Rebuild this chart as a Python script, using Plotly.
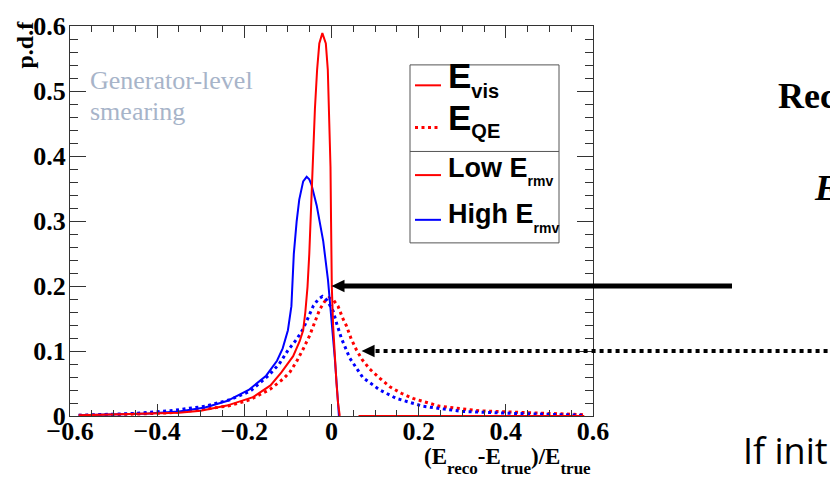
import plotly.graph_objects as go

# ---------------- data: resolution p.d.f. vs (E_reco - E_true)/E_true ----------------
# E_vis, low removal energy (red solid)
evis_low_x = [-0.58, -0.50, -0.42, -0.35, -0.30, -0.24, -0.18, -0.14, -0.115, -0.100,
              -0.088, -0.073, -0.065, -0.060, -0.055, -0.051, -0.0475, -0.0436, -0.038,
              -0.033, -0.028, -0.021, -0.013, -0.0085, -0.0055, -0.0023, -0.001, 0.0007,
              0.0037, 0.0076, 0.0115, 0.015, 0.019, None, 0.062, 0.58]
evis_low_y = [0.001, 0.002, 0.003, 0.005, 0.008, 0.016, 0.029, 0.047, 0.067, 0.080,
              0.092, 0.115, 0.132, 0.160, 0.199, 0.249, 0.309, 0.398, 0.473,
              0.533, 0.573, 0.589, 0.573, 0.533, 0.473, 0.383, 0.299, 0.199,
              0.139, 0.089, 0.050, 0.020, 0.0, None, 0.0, 0.0]

# E_vis, high removal energy (blue solid)
evis_high_x = [-0.58, -0.50, -0.42, -0.35, -0.29, -0.24, -0.19, -0.15, -0.125, -0.112,
               -0.100, -0.092, -0.0895, -0.0865, -0.080, -0.074, -0.065, -0.057, -0.051,
               -0.046, -0.034, -0.019, -0.008, 0.0, 0.0076, 0.015, 0.017]
evis_high_y = [0.001, 0.002, 0.004, 0.007, 0.013, 0.023, 0.040, 0.062, 0.085, 0.104,
               0.132, 0.169, 0.199, 0.249, 0.299, 0.333, 0.361, 0.368, 0.364,
               0.356, 0.324, 0.269, 0.209, 0.149, 0.089, 0.020, 0.0]

# E_QE, low removal energy (red dotted)
eqe_low_x = [-0.58, -0.50, -0.447, -0.371, -0.294, -0.233, -0.187, -0.141, -0.111, -0.095,
             -0.080, -0.065, -0.050, -0.038, -0.027, -0.016, -0.006, 0.005, 0.015, 0.026,
             0.034, 0.045, 0.057, 0.070, 0.088, 0.111, 0.134, 0.160, 0.187, 0.248, 0.340,
             0.455, 0.58]
eqe_low_y = [0.001, 0.002, 0.003, 0.005, 0.010, 0.016, 0.025, 0.041, 0.057, 0.068,
             0.084, 0.103, 0.124, 0.145, 0.164, 0.176, 0.182, 0.178, 0.169, 0.150,
             0.139, 0.119, 0.102, 0.087, 0.072, 0.058, 0.045, 0.035, 0.027, 0.015, 0.008,
             0.005, 0.002]

# E_QE, high removal energy (blue dotted)
eqe_high_x = [-0.58, -0.52, -0.45, -0.37, -0.29, -0.233, -0.187, -0.145, -0.12, -0.10,
              -0.08, -0.065, -0.042, -0.030, -0.021, -0.010, 0.004, 0.012, 0.023, 0.042,
              0.072, 0.111, 0.149, 0.21, 0.30, 0.42, 0.53, 0.58]
eqe_high_y = [0.001, 0.002, 0.004, 0.008, 0.015, 0.025, 0.038, 0.062, 0.080, 0.101,
              0.118, 0.134, 0.169, 0.180, 0.184, 0.178, 0.161, 0.142, 0.119, 0.089,
              0.059, 0.040, 0.027, 0.015, 0.007, 0.004, 0.002, 0.001]

x_range = [-0.6, 0.6]
y_range = [0.0, 0.6]

# points the two call-out arrows aim at (data coordinates)
arrow_solid_target = (0.0, 0.2)
arrow_dotted_target = (0.069, 0.1)

RED = "#ff0000"
BLUE = "#0000ff"

# ---------------- canvas geometry ----------------
W, H = 830, 478
ML, MR, MT, MB = 70, 237, 15, 62
PW, PH = W - ML - MR, H - MT - MB


def px_x(px):
    """canvas pixel x -> paper x"""
    return (px - ML) / PW


def px_y(py):
    """canvas pixel y -> paper y"""
    return (H - MB - py) / PH


def data_px_x(x):
    return ML + (x - x_range[0]) / (x_range[1] - x_range[0]) * PW


def data_px_y(y):
    return H - MB - (y - y_range[0]) / (y_range[1] - y_range[0]) * PH


fig = go.Figure()

dot = "3px,3.5px"
fig.add_trace(go.Scatter(x=eqe_low_x, y=eqe_low_y, mode="lines",
                         line=dict(color=RED, width=3, dash=dot), showlegend=False))
fig.add_trace(go.Scatter(x=eqe_high_x, y=eqe_high_y, mode="lines",
                         line=dict(color=BLUE, width=3, dash=dot), showlegend=False))
fig.add_trace(go.Scatter(x=evis_high_x, y=evis_high_y, mode="lines",
                         line=dict(color=BLUE, width=2), showlegend=False))
fig.add_trace(go.Scatter(x=evis_low_x, y=evis_low_y, mode="lines", connectgaps=False,
                         line=dict(color=RED, width=2), showlegend=False))

AX = "#333333"
tickfont = dict(family="Liberation Serif", size=26, color="black", weight="bold")
fig.update_xaxes(range=x_range, tick0=-0.6, dtick=0.2, ticks="inside", ticklen=12,
                 tickwidth=1, tickcolor=AX, showline=True, linecolor=AX, linewidth=1,
                 mirror="allticks", showgrid=False, zeroline=False, tickfont=tickfont,
                 ticklabelstandoff=-8,
                 minor=dict(dtick=0.05, tick0=-0.6, ticks="inside", ticklen=6,
                            tickcolor=AX, showgrid=False))
fig.update_yaxes(range=y_range, tick0=0, dtick=0.1, ticks="inside", ticklen=16,
                 tickwidth=1, tickcolor=AX, showline=True, linecolor=AX, linewidth=1,
                 mirror="allticks", showgrid=False, zeroline=False, tickfont=tickfont,
                 ticklabelstandoff=-2,
                 minor=dict(dtick=0.02, tick0=0, ticks="inside", ticklen=8,
                            tickcolor=AX, showgrid=False))

shapes = []
annotations = []


def label(px, py, text, size, family, color="black", weight="normal", style="normal",
          xanchor="left", yanchor="middle", angle=0):
    annotations.append(dict(x=px_x(px), y=px_y(py), xref="paper", yref="paper",
                            text=text, showarrow=False, xanchor=xanchor,
                            yanchor=yanchor, textangle=angle, borderpad=0,
                            font=dict(size=size, family=family, color=color,
                                      weight=weight, style=style)))


def sub(text, size, shift):
    return f'<span style="font-size:{size}px;baseline-shift:-{shift}px">{text}</span>'


# ---------------- axis titles ----------------
label(25, 34, "p.d.f", 24, "Liberation Serif", weight="bold", angle=-90,
      xanchor="center")
xt = ("(E" + sub("reco", 17, 10) + "-E" + sub("true", 17, 10) + ")/E"
      + sub("true", 17, 10))
label(592, 462, xt, 23, "Liberation Serif", weight="bold", xanchor="right")

# ---------------- note inside the frame ----------------
label(89, 71, "Generator-level", 26, "Liberation Serif", color="#a7b4c9")
label(89, 103, "smearing", 26, "Liberation Serif", color="#a7b4c9")

# ---------------- legend box ----------------
shapes.append(dict(type="rect", xref="paper", yref="paper", x0=px_x(410), x1=px_x(559),
                   y0=px_y(55), y1=px_y(238), line=dict(color="#555555", width=1),
                   fillcolor="white", layer="above"))
shapes.append(dict(type="line", xref="paper", yref="paper", x0=px_x(410), x1=px_x(559),
                   y0=px_y(144), y1=px_y(144), line=dict(color="#555555", width=1)))
legend_rows = [
    (76, 70, RED, "solid", "E" + sub("vis", 20, 10), 35),
    (119.3, 112, RED, dot, "E" + sub("QE", 20, 8), 35),
    (168.3, 164, RED, "solid", "Low E" + sub("rmv", 14, 9), 27),
    (214.3, 212, BLUE, "solid", "High E" + sub("rmv", 14, 10), 27),
]
for ry, ty_text, col, dash, txt, fs in legend_rows:
    shapes.append(dict(type="line", xref="paper", yref="paper", x0=px_x(415),
                       x1=px_x(441), y0=px_y(ry), y1=px_y(ry),
                       line=dict(color=col, width=2 if dash == "solid" else 3,
                                 dash=dash)))
    label(447, ty_text, txt, fs, "Liberation Sans", weight="bold")

# ---------------- call-out arrows ----------------
tx, ty = data_px_x(arrow_solid_target[0]), data_px_y(arrow_solid_target[1])
shapes.append(dict(type="line", xref="paper", yref="paper", x0=px_x(tx + 11),
                   x1=px_x(732), y0=px_y(ty), y1=px_y(ty),
                   line=dict(color="black", width=5)))
shapes.append(dict(type="path", xref="paper", yref="paper",
                   path=(f"M{px_x(tx)},{px_y(ty)} L{px_x(tx + 13)},{px_y(ty - 6.5)} "
                         f"L{px_x(tx + 13)},{px_y(ty + 6.5)} Z"),
                   fillcolor="black", line=dict(color="black", width=0)))

dx, dy = data_px_x(arrow_dotted_target[0]), data_px_y(arrow_dotted_target[1])
shapes.append(dict(type="line", xref="paper", yref="paper", x0=px_x(dx + 14),
                   x1=px_x(840), y0=px_y(dy), y1=px_y(dy),
                   line=dict(color="black", width=4, dash="4px,4px")))
shapes.append(dict(type="path", xref="paper", yref="paper",
                   path=(f"M{px_x(dx)},{px_y(dy)} L{px_x(dx + 13)},{px_y(dy - 6.5)} "
                         f"L{px_x(dx + 13)},{px_y(dy + 6.5)} Z"),
                   fillcolor="black", line=dict(color="black", width=0)))

# ---------------- slide text to the right ----------------
label(777, 87, "Rec", 36, "Liberation Serif", weight="bold")
label(813, 182, "E", 36, "Liberation Serif", weight="bold", style="italic")
label(742, 451, "If init", 36, "Open Sans")

fig.update_layout(width=W, height=H, autosize=False,
                  margin=dict(l=ML, r=MR, t=MT, b=MB, pad=0),
                  paper_bgcolor="white", plot_bgcolor="white",
                  shapes=shapes, annotations=annotations, showlegend=False)

fig.write_html("out.html")
